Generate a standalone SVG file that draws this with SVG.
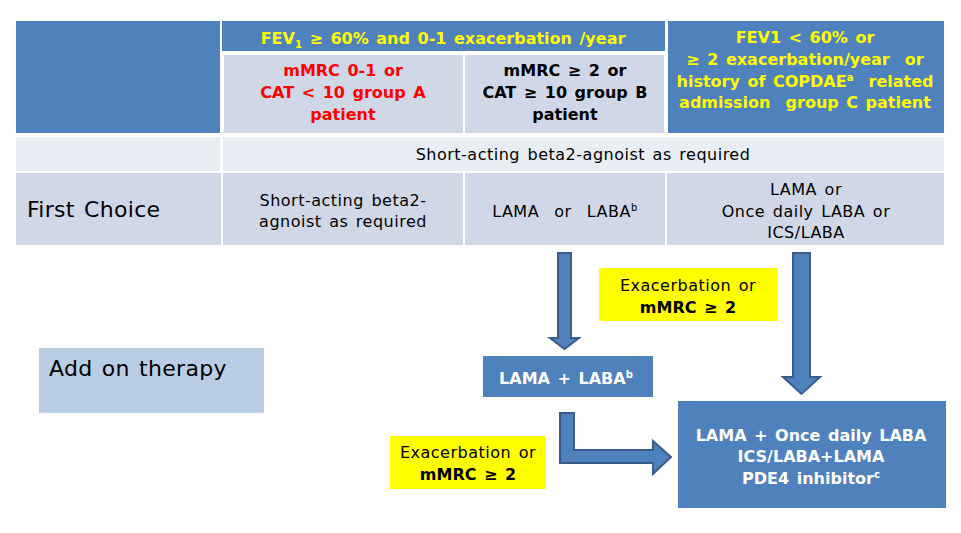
<svg xmlns="http://www.w3.org/2000/svg" width="961" height="533" viewBox="0 0 961 533">
<style>
text{font-family:"DejaVu Sans","Noto Sans",sans-serif;font-size:16px;text-anchor:middle;word-spacing:2px;letter-spacing:0.5px}
.b{font-weight:bold;letter-spacing:0}
.y{fill:#FFFF00}
.r{fill:#FF0000}
.w{fill:#FFFFFF}
.k{fill:#000000}
.hd{fill:#4F81BD}
.c1{fill:#D0D8E8}
.c2{fill:#E9EDF4}
.big{font-size:22px;text-anchor:start;letter-spacing:0.3px}
.arr{fill:#4F81BD;stroke:#385D8A;stroke-width:2}
.sup{font-size:10px}
</style>
<rect width="961" height="533" fill="#FFFFFF"/>
<g id="table">
<rect class="hd" x="16" y="21" width="204" height="112"/>
<rect class="hd" x="222" y="21" width="443" height="30"/>
<rect class="c1" x="224" y="55" width="239" height="78"/>
<rect class="c1" x="465" y="55" width="199" height="78"/>
<rect class="hd" x="668" y="21" width="276" height="112"/>
<rect class="c2" x="16" y="137" width="204" height="34"/>
<rect class="c2" x="223" y="137" width="721" height="34"/>
<rect class="c1" x="16" y="173" width="205" height="72"/>
<rect class="c1" x="223" y="173" width="240" height="72"/>
<rect class="c1" x="465" y="173" width="200" height="72"/>
<rect class="c1" x="667" y="173" width="277" height="72"/>
</g>
<g id="hdr-fev"><text class="b y" x="443" y="44">FEV<tspan class="sup" dy="4">1</tspan><tspan dy="-4"> ≥ 60% and 0-1 exacerbation /year</tspan></text></g>
<g id="hdr-a"><text class="b r" x="343" y="76">mMRC 0-1 or</text><text class="b r" x="343" y="98">CAT &lt; 10 group A</text><text class="b r" x="343" y="120">patient</text></g>
<g id="hdr-b"><text class="b k" x="565" y="76">mMRC ≥ 2 or</text><text class="b k" x="565" y="98">CAT ≥ 10 group B</text><text class="b k" x="565" y="120">patient</text></g>
<g id="hdr-c"><text class="b y" x="805" y="43">FEV1 &lt; 60% or</text><text class="b y" x="805" y="65" xml:space="preserve">≥ 2 exacerbation/year  or</text><text class="b y" x="805" y="87">history of COPDAE<tspan class="sup" dy="-6">a</tspan><tspan dy="6" xml:space="preserve">  related</tspan></text><text class="b y" x="805" y="108" xml:space="preserve">admission  group C patient</text></g>
<g id="row-saba"><text x="583" y="160">Short-acting beta2-agnoist as required</text></g>
<g id="first-choice"><text class="big" x="27" y="217">First Choice</text></g>
<g id="fc-a"><text x="343" y="206">Short-acting beta2-</text><text x="343" y="227">agnoist as required</text></g>
<g id="fc-b"><text x="565" y="217" xml:space="preserve">LAMA  or  LABA<tspan class="sup" dy="-6">b</tspan></text></g>
<g id="fc-c"><text x="806" y="195">LAMA or</text><text x="806" y="217">Once daily LABA or</text><text x="806" y="238">ICS/LABA</text></g>
<g id="add-on"><rect x="39" y="348" width="225" height="65" fill="#B9CDE5"/><text class="big" x="49" y="376">Add on therapy</text></g>
<g id="cond1"><rect x="599" y="268" width="179" height="53" fill="#FFFF00"/><text x="688" y="291">Exacerbation or</text><text class="b" x="688" y="313">mMRC ≥ 2</text></g>
<g id="cond2"><rect x="390" y="436" width="156" height="53" fill="#FFFF00"/><text x="468" y="458">Exacerbation or</text><text class="b" x="468" y="480">mMRC ≥ 2</text></g>
<g id="lama-laba"><rect class="hd" x="483" y="356" width="170" height="41"/><text class="b w" x="566" y="384">LAMA + LABA<tspan class="sup" dy="-6">b</tspan></text></g>
<g id="combo"><rect class="hd" x="678" y="401" width="268" height="107"/><text class="b w" x="811" y="441">LAMA + Once daily LABA</text><text class="b w" x="811" y="462">ICS/LABA+LAMA</text><text class="b w" x="811" y="484">PDE4 inhibitor<tspan class="sup" dy="-6">c</tspan></text></g>
<g id="connectors">
<polygon class="arr" points="558,253 571,253 571,338 579,338 564.5,349 550,338 558,338"/>
<polygon class="arr" points="793,253 810,253 810,377 820,377 801.5,394 783,377 793,377"/>
<polygon class="arr" points="560,413 574,413 574,450 653,450 653,441 671,457 653,474 653,463 560,463"/>
</g>
</svg>
